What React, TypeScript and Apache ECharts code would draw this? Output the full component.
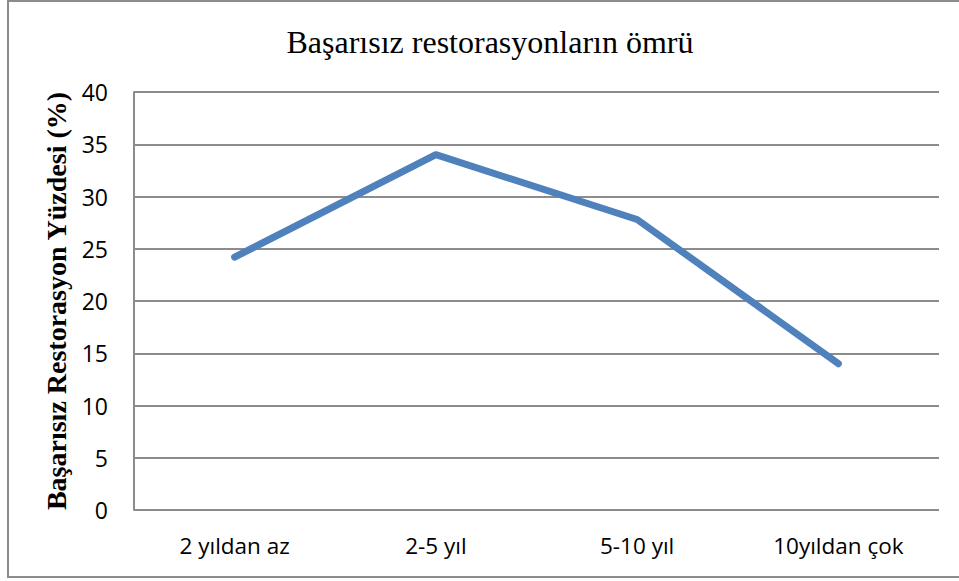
import React, { useEffect, useRef } from "react";
import * as echarts from "echarts";

const categories = ["2 yıldan az", "2-5 yıl", "5-10 yıl", "10yıldan çok"];
const values = [24.2, 34.0, 27.8, 14.0];
const titleText = "Başarısız restorasyonların ömrü";
const yAxisTitle = "Başarısız Restorasyon Yüzdesi (%)";

export default function App() {
  const ref = useRef<HTMLDivElement>(null);
  useEffect(() => {
    const chart = echarts.init(ref.current!, undefined, { renderer: "svg" });
    chart.setOption({
      animation: false,
      backgroundColor: "#ffffff",
      graphic: [
        {
          type: "rect",
          shape: { x: 8, y: 1, width: 970, height: 576 },
          style: { fill: "none", stroke: "#8c8c8c", lineWidth: 2 },
          silent: true,
        },
        {
          type: "text",
          x: 490,
          y: 42,
          style: {
            text: titleText,
            fontSize: 32,
            fontFamily: "Liberation Serif",
            fill: "#000",
            align: "center",
            verticalAlign: "middle",
          },
        },
      ],
      grid: { left: 134, right: 20, top: 92, bottom: 71, containLabel: false },
      xAxis: {
        type: "category",
        data: categories,
        boundaryGap: true,
        axisLine: { show: false },
        axisTick: { show: false },
        axisLabel: {
          color: "#000",
          fontSize: 22.5,
          fontFamily: "Open Sans",
          margin: 24,
        },
      },
      yAxis: {
        type: "value",
        min: 0,
        max: 40,
        interval: 5,
        name: yAxisTitle,
        nameLocation: "middle",
        nameRotate: 90,
        nameGap: 60,
        nameTextStyle: {
          fontSize: 28,
          fontWeight: "bold",
          fontFamily: "Liberation Serif",
          color: "#000",
        },
        axisLine: { show: true, lineStyle: { color: "#8c8c8c", width: 2 } },
        axisTick: { show: false },
        axisLabel: {
          color: "#000",
          fontSize: 23,
          fontFamily: "Open Sans",
          margin: 26,
        },
        splitLine: { show: true, lineStyle: { color: "#8c8c8c", width: 2 } },
      },
      series: [
        {
          type: "line",
          data: values,
          symbol: "none",
          lineStyle: { color: "#4f81bd", width: 7, cap: "round", join: "round" },
        },
      ],
    });
    return () => chart.dispose();
  }, []);
  return (
    <div
      ref={ref}
      style={{ position: "absolute", left: 0, top: 0, width: 959, height: 581 }}
    />
  );
}
